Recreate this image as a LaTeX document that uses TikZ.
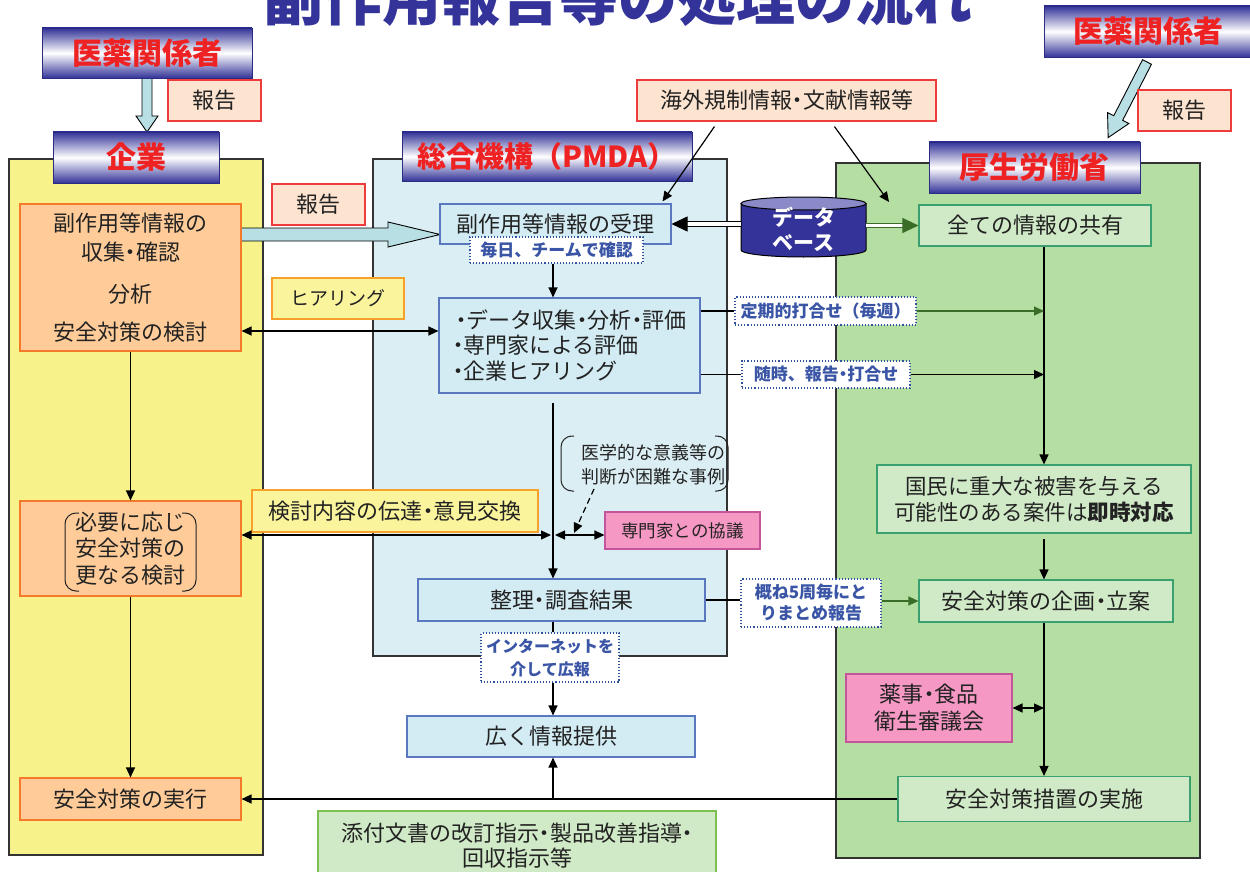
\documentclass[tikz,border=0pt]{standalone}
\usepackage{fontspec}
\setmainfont{Noto Sans CJK JP}
\usetikzlibrary{arrows.meta}
\definecolor{hdrblue}{HTML}{333399}
\definecolor{hdrred}{HTML}{EE2222}
\definecolor{ttl}{HTML}{333399}
\definecolor{pnlY}{HTML}{F7F38A}
\definecolor{pnlB}{HTML}{DBEEF3}
\definecolor{pnlG}{HTML}{B5DEA2}
\definecolor{orF}{HTML}{FFCC99}
\definecolor{orD}{HTML}{F5792B}
\definecolor{pcF}{HTML}{FDE4D0}
\definecolor{pcD}{HTML}{EE3B3B}
\definecolor{ylF}{HTML}{FAF49C}
\definecolor{ylD}{HTML}{F7A02A}
\definecolor{lbF}{HTML}{D3ECF4}
\definecolor{lbD}{HTML}{5A78C0}
\definecolor{gnF}{HTML}{D0E9C6}
\definecolor{gnD}{HTML}{3AA070}
\definecolor{pkF}{HTML}{F598C3}
\definecolor{pkD}{HTML}{C4559B}
\definecolor{dtD}{HTML}{3050A0}
\definecolor{dtT}{HTML}{3A55A5}
\definecolor{txt}{HTML}{222222}
\definecolor{dkG}{HTML}{3A6E28}
\definecolor{baF}{HTML}{B8DFE3}
\definecolor{dbF}{HTML}{333399}
\definecolor{dbT}{HTML}{8A8AC8}
\definecolor{tpD}{HTML}{7CC050}
\newcommand{\nkdot}{\makebox[0.5em][c]{・}}
\newcommand{\myfs}[2]{\fontsize{#1}{#2}\selectfont}
\begin{document}
\begin{tikzpicture}[x=1pt,y=-1pt,
  panel/.style={draw=black!80, line width=1.2pt},
  hdr/.style={draw=hdrblue!85!black, line width=0.8pt, top color=hdrblue, bottom color=hdrblue, middle color=white, text=hdrred, font=\bfseries\myfs{30}{32}, inner sep=0pt},
  box/.style={draw, line width=1.1pt, inner sep=0pt, align=center, text=txt, font=\myfs{22}{28}},
  orbox/.style={box, fill=orF, draw=orD},
  pcbox/.style={box, fill=pcF, draw=pcD},
  ylbox/.style={box, fill=ylF, draw=ylD},
  lbbox/.style={box, fill=lbF, draw=lbD},
  gnbox/.style={box, fill=gnF, draw=gnD},
  pkbox/.style={box, fill=pkF, draw=pkD},
  dotbox/.style={draw=dtD, dotted, line width=1.1pt, fill=white, text=dtT, font=\bfseries\myfs{17}{21}, inner sep=0pt, align=center},
  conn/.style={line width=1.2pt, draw=black},
  arr/.style={conn, -{Triangle[length=10pt,width=9pt]}},
  dbl/.style={conn, {Triangle[length=10pt,width=9pt]}-{Triangle[length=10pt,width=9pt]}},
  dbarr/.style={line width=0.9pt, double distance=3.5pt, -{Triangle[length=16pt,width=15pt]}},
  barrow/.style={draw=black, line width=0.9pt, fill=baF, line join=miter},
  brk/.style={line width=1pt, draw=txt, rounded corners=11pt},
]
\useasboundingbox (0,0) rectangle (1250,872);
\fill[white] (0,0) rectangle (1250,872);

% title (clipped at top)
\node[font=\bfseries\myfs{59}{60}, text=ttl, anchor=base, inner sep=0pt] (title) at (618,21) {副作用報告等の処理の流れ};

% panels
\draw[panel, fill=pnlY] (9,159) rectangle (263,855);
\draw[panel, fill=pnlB] (373,159) rectangle (727,656);
\draw[panel, fill=pnlG] (836,163) rectangle (1200,858);

% block arrows
\begin{scope}[shift={(147,70)}, rotate=-90]
  \draw[barrow] (0,-5) -- (46,-5) -- (46,-11) -- (62,0) -- (46,11) -- (46,5) -- (0,5) -- cycle;
\end{scope}
\begin{scope}[shift={(241,234.5)}]
  \draw[barrow] (0,-6.5) -- (147,-6.5) -- (147,-12.5) -- (199,0) -- (147,12.5) -- (147,6.5) -- (0,6.5) -- cycle;
\end{scope}
\begin{scope}[shift={(1147,62)}, rotate=242.8]
  \draw[barrow] (0,-5) -- (63,-5) -- (63,-12) -- (85,0) -- (63,12) -- (63,5) -- (0,5) -- cycle;
\end{scope}

% headers
\node[hdr, minimum width=210pt, minimum height=50pt] (hdrL1) at (147,53) {医薬関係者};
\node[hdr, minimum width=166pt, minimum height=51pt] (hdrL2) at (136,157.5) {企業};
\node[hdr, minimum width=290pt, minimum height=49pt, font=\bfseries\myfs{29}{31}] (hdrM) at (547,156.5) {総合機構（PMDA）};
\node[hdr, minimum width=211pt, minimum height=51pt] (hdrR2) at (1034.5,167.5) {厚生労働省};
\node[hdr, minimum width=208pt, minimum height=51pt] (hdrR1) at (1148,31.5) {医薬関係者};

% report boxes
\node[pcbox, minimum width=93pt, minimum height=41pt] (rep1) at (214.5,100.5) {報告};
\node[pcbox, minimum width=93pt, minimum height=41pt] (rep2) at (318.5,204.5) {報告};
\node[pcbox, minimum width=93pt, minimum height=41pt] (rep3) at (1184.5,110.5) {報告};
\node[pcbox, minimum width=299pt, minimum height=41pt] (foreign) at (786.5,100.5) {海外規制情報\nkdot 文献情報等};

% left column
\node[orbox, minimum width=221pt, minimum height=147pt] (L1) at (130.5,277.5) {副作用等情報の\\[1pt]収集\nkdot 確認\\[14pt]分析\\[10pt]安全対策の検討};
\node[orbox, minimum width=221pt, minimum height=95pt, font=\myfs{22}{26.5}] (L2) at (130.5,548.5) {必要に応じ\\安全対策の\\更なる検討};
\draw[brk] (79,513) -- (65,513) -- (65,591) -- (79,591);
\draw[brk] (182,513) -- (196,513) -- (196,591) -- (182,591);
\node[orbox, minimum width=221pt, minimum height=42pt] (L3) at (130.5,799) {安全対策の実行};

\node[ylbox, minimum width=132pt, minimum height=41pt, font=\myfs{19}{24}] (hear) at (338,298.5) {ヒアリング};
\node[ylbox, minimum width=286pt, minimum height=42pt] (kentou) at (395,511) {検討内容の伝達\nkdot 意見交換};

% middle column
\node[lbbox, minimum width=231pt, minimum height=40pt] (M1) at (555.5,224) {副作用等情報の受理};
\node[dotbox, minimum width=173pt, minimum height=26pt] (M1lab) at (556.5,250) {毎日、チームで確認};
\node[lbbox, minimum width=261pt, minimum height=95pt, align=left, font=\myfs{22}{25.5}] (M2) at (569.5,345.5) {\hspace*{3pt}\nkdot データ収集\nkdot 分析\nkdot 評価\\\nkdot 専門家による評価\\\nkdot 企業ヒアリング};
\node[font=\myfs{18}{24}, text=txt, align=left, inner sep=0pt] (nt) at (653,465) {医学的な意義等の\\判断が困難な事例};
\draw[brk] (574,436) -- (561,436) -- (561,491) -- (574,491);
\draw[brk] (715,436) -- (728,436) -- (728,491) -- (715,491);
\node[pkbox, minimum width=155pt, minimum height=37pt, font=\myfs{17.5}{22}] (expert) at (682.5,530.5) {専門家との協議};
\node[lbbox, minimum width=287pt, minimum height=42pt] (M3) at (561.5,600) {整理\nkdot 調査結果};
\node[dotbox, minimum width=138pt, minimum height=49pt, font=\bfseries\myfs{16}{23}] (inet) at (550,657.5) {インターネットを\\介して広報};
\node[lbbox, minimum width=288pt, minimum height=41pt] (M4) at (551,736.5) {広く情報提供};
\node[box, fill=gnF, draw=tpD, minimum width=398pt, minimum height=69pt, font=\myfs{22}{25}] (tenpu) at (517,845.5) {添付文書の改訂指示\nkdot 製品改善指導\nkdot\\回収指示等};

% database
\draw[line width=1pt, fill=dbF] (741,203.5) -- (741,250) arc[start angle=180, end angle=360, x radius=62.5pt, y radius=7pt] -- (866,203.5) -- cycle;
\draw[line width=1pt, fill=dbT] (803.5,203.5) ellipse [x radius=62.5pt, y radius=6.5pt];
\node[text=white, font=\bfseries\myfs{21}{25}, align=center, inner sep=0pt, minimum width=125pt, minimum height=61pt] (db) at (803.5,229) {データ\\ベース};

% right column
\node[gnbox, minimum width=232pt, minimum height=41pt] (R1) at (1035,225.5) {全ての情報の共有};
\node[gnbox, minimum width=314pt, minimum height=68pt, font=\myfs{21.5}{26}] (R2) at (1034,499) {国民に重大な被害を与える\\可能性のある案件は\textbf{即時対応}};
\node[gnbox, minimum width=254pt, minimum height=42pt] (R3) at (1046,601) {安全対策の企画\nkdot 立案};
\node[pkbox, minimum width=166pt, minimum height=68pt, font=\myfs{22}{27}] (council) at (929,708) {薬事\nkdot 食品\\衛生審議会};
\node[gnbox, minimum width=292pt, minimum height=45pt] (R4) at (1044,799) {安全対策措置の実施};

% labels between columns
\node[dotbox, minimum width=181pt, minimum height=28pt] (lab1) at (825.5,311) {定期的打合せ（毎週）};
\node[dotbox, minimum width=168pt, minimum height=27pt] (lab2) at (826,374.5) {随時、報告\nkdot 打合せ};
\node[dotbox, minimum width=140pt, minimum height=48pt] (lab3) at (811,603) {概ね5周毎にと\\りまとめ報告};

% helper coordinates
\coordinate (tM) at (553,0);
\coordinate (tR) at (1044,0);
\coordinate (yA) at (0,331);
\coordinate (yB) at (0,535);
\coordinate (yB1) at (551,535);
\coordinate (yB2) at (555,535);
\coordinate (yD) at (0,799);
\coordinate (m2b) at (553,403);
\coordinate (r2b) at (1044,539);
\coordinate (fT) at (889,202);
\coordinate (dsS) at (594,489);
\coordinate (dsE) at (574,533);

% connectors
\draw[arr] (L1.south) -- (L2.north);
\draw[arr] (L2.south) -- (L3.north);
\draw[dbl] (L1.east |- yA) -- (M2.west |- yA);
\draw[arr] (M1lab.south -| tM) -- (M2.north -| tM);
\draw[arr] (m2b) -- (M3.north -| tM);
\draw[arr, dash pattern=on 6pt off 4pt] (dsS) -- (dsE);
\draw[dbl] (L2.east |- yB) -- (yB1);
\draw[dbl] (yB2) -- (expert.west |- yB);
\draw[conn] (M3.south -| tM) -- (inet.north -| tM);
\draw[arr] (inet.south -| tM) -- (M4.north -| tM);
\draw[arr] (R4.west |- yD) -- (L3.east |- yD);
\draw[arr] (tM |- yD) -- (M4.south -| tM);
\draw[arr] ([xshift=78pt,yshift=-5pt]foreign.south west) -- ([xshift=-9pt,yshift=2pt]M1.north east);
\draw[arr] ([xshift=198pt,yshift=-5pt]foreign.south west) -- (fT);
\draw[dbarr, draw=black, double=white] (db.west |- M1.east) -- (M1.east);
\draw[dbarr, draw=dkG, double=white] (db.east |- R1.west) -- (R1.west);
\draw[arr] (R1.south -| tR) -- (R2.north -| tR);
\draw[conn] (M2.east |- lab1.west) -- (lab1.west);
\draw[arr, draw=dkG] (lab1.east) -- (lab1.east -| tR);
\draw[conn] (M2.east |- lab2.west) -- (lab2.west);
\draw[arr] (lab2.east) -- (lab2.east -| tR);
\draw[arr] (r2b) -- (R3.north -| tR);
\draw[arr] (R3.south -| tR) -- (R4.north -| tR);
\draw[dbl] (council.east) -- (council.east -| tR);
\draw[conn] (M3.east) -- (M3.east -| lab3.west);
\draw[arr, draw=dkG] (lab3.east |- R3.west) -- (R3.west);
\end{tikzpicture}
\end{document}
